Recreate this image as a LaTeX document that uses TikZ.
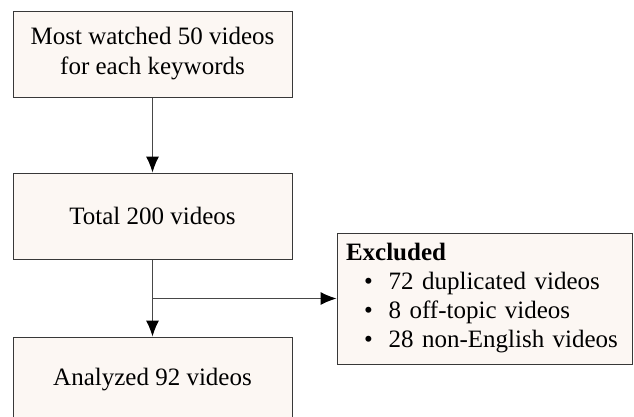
\documentclass[tikz,border=0pt]{standalone}
\usepackage{fontspec}
\setmainfont{Liberation Serif}
\usetikzlibrary{arrows.meta}

\definecolor{boxfill}{HTML}{FCF7F3}
\definecolor{boxline}{HTML}{383838}
\definecolor{arrline}{HTML}{484848}

\tikzset{
  stepbox/.style={draw=boxline, fill=boxfill, line width=1pt, minimum width=279pt,
    minimum height=86pt, align=center, font=\fontsize{25}{30}\selectfont},
  flow/.style={draw=arrline, line width=1pt, -{Latex[length=16pt,width=13pt,color=black]}}
}

\begin{document}
\begin{tikzpicture}[x=1pt,y=1pt]
\useasboundingbox (0,0) rectangle (634,-416);

\node[stepbox] (top) at (152.5,-54) {Most watched 50 videos\\for each keywords};
\node[stepbox] (total) at (152.5,-216) {Total 200 videos};
\node[stepbox] (anal) at (152.5,-380) {Analyzed 92 videos};

\node[stepbox, minimum width=295pt, minimum height=131pt, text width=277pt,
  inner xsep=9pt, align=left] (excl) at (484.5,-298.5)
  {\textbf{Excluded}\\[-1pt]
   \hspace*{18pt}\textbullet\hspace{16pt}72 duplicated videos\\[-1pt]
   \hspace*{18pt}\textbullet\hspace{16pt}8 off-topic videos\\[-1pt]
   \hspace*{18pt}\textbullet\hspace{16pt}28 non-English videos};

\coordinate (split) at (152.5,-298.5);

\path[flow] (top) -- (total);
\path[flow] (total) -- (anal);
\path[flow] (split) -- (excl.west);
\end{tikzpicture}
\end{document}
